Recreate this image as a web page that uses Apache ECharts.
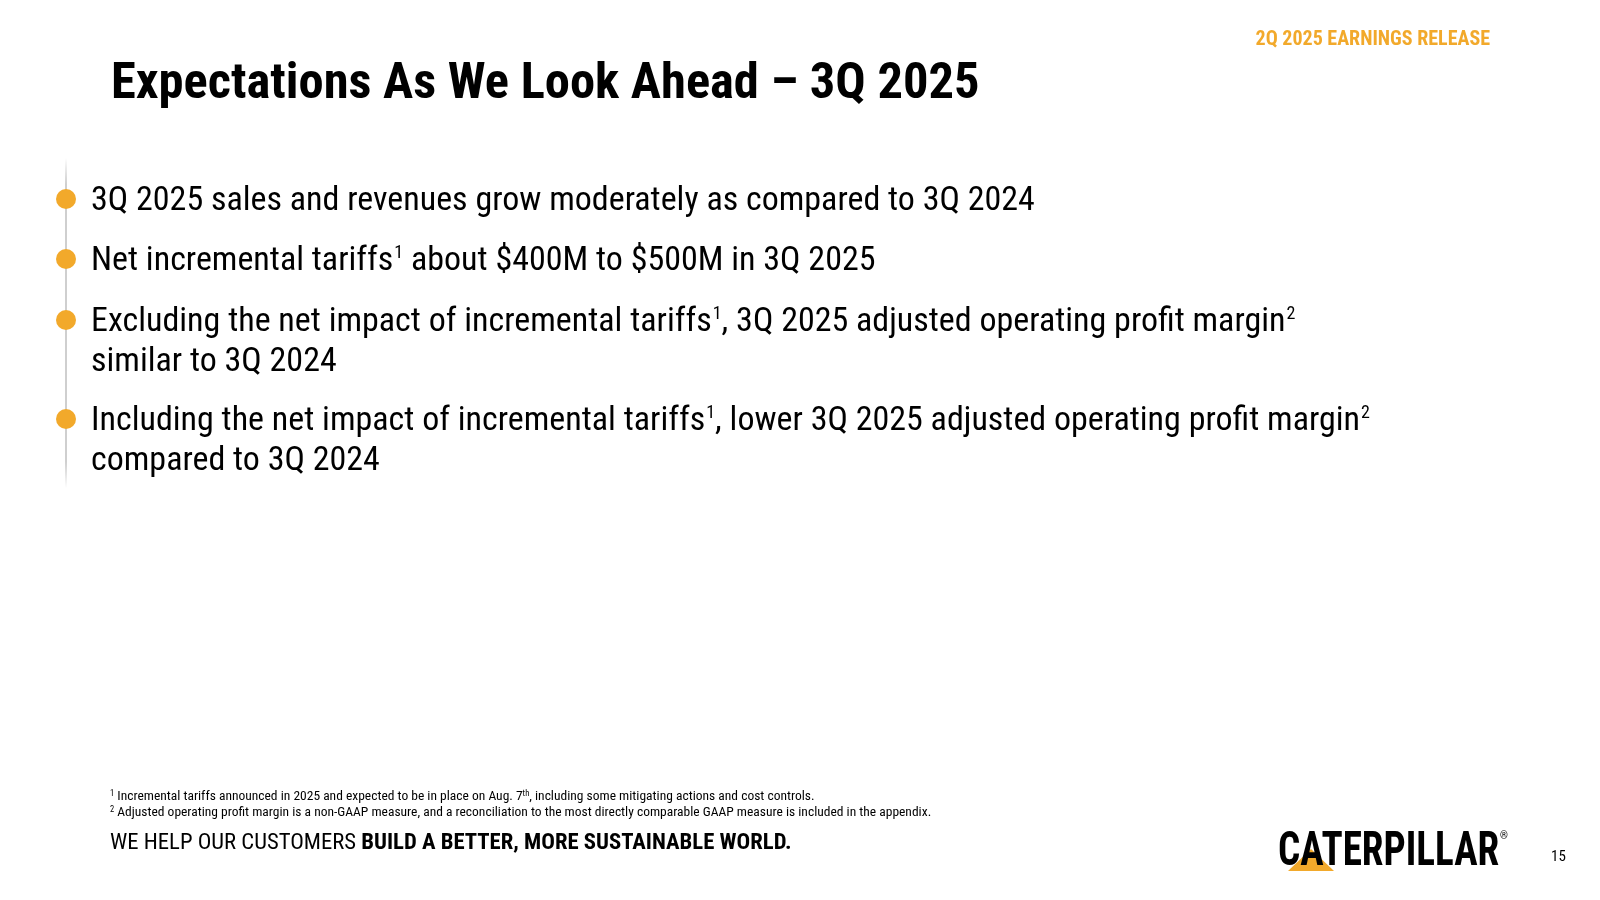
<!DOCTYPE html>
<html>
<head>
<meta charset="utf-8">
<script src="https://cdn.jsdelivr.net/npm/echarts@6/dist/echarts.min.js"></script>
<style>
html,body{margin:0;padding:0;background:#fff}
#slide{width:1600px;height:900px}
</style>
</head>
<body>
<div id="slide"></div>
<script>
// slide texts
var headerText = '2Q 2025 EARNINGS RELEASE';
var titleText = 'Expectations As We Look Ahead \u2013 3Q 2025';
// each bullet: list of lines, {sup|n} marks superscripts
var bullets = [
  ['3Q 2025 sales and revenues grow moderately as compared to 3Q 2024'],
  ['Net incremental tariffs{sup|1} about $400M to $500M in 3Q 2025'],
  ['Excluding the net impact of incremental tariffs{sup|1}, 3Q 2025 adjusted operating profit margin{sup|2}', 'similar to 3Q 2024'],
  ['Including the net impact of incremental tariffs{sup|1}, lower 3Q 2025 adjusted operating profit margin{sup|2}', 'compared to 3Q 2024']
];
var bulletY = [199, 259, 320, 419];
var footnotes = [
  '{sup|1} Incremental tariffs announced in 2025 and expected to be in place on Aug. 7{sup|th}, including some mitigating actions and cost controls.',
  '{sup|2} Adjusted operating profit margin is a non-GAAP measure, and a reconciliation to the most directly comparable GAAP measure is included in the appendix.'
];
var pageNum = '15';

var FONT = '"Liberation Sans Narrow", "Arial Narrow", "Roboto Condensed", "Liberation Sans", sans-serif';
var ORANGE = '#F2A92B';

var myChart = echarts.init(document.getElementById('slide'));
var els = [];

els.push({type:'text', right:110, top:30, style:{text:headerText, fill:ORANGE, font:'bold 20px ' + FONT}});
els.push({type:'text', left:111, top:60, style:{text:titleText, fill:'#000', font:'bold 50.5px ' + FONT}});

// vertical guide line
els.push({type:'rect', shape:{x:65, y:158, width:2, height:330},
  style:{fill:new echarts.graphic.LinearGradient(0,0,0,1,[
    {offset:0,color:'rgba(200,200,200,0)'},{offset:0.08,color:'#cfcfcf'},
    {offset:0.92,color:'#cfcfcf'},{offset:1,color:'rgba(200,200,200,0)'}])}});

bullets.forEach(function(lines, i){
  els.push({type:'circle', shape:{cx:66, cy:bulletY[i], r:10}, style:{fill:ORANGE}});
  lines.forEach(function(line, j){
    els.push({type:'text', left:91, top:bulletY[i] - 15 + j*40, style:{
      text:line, fill:'#000', font:'34px ' + FONT,
      rich:{sup:{fontSize:18, verticalAlign:'top', padding:[0,0,15,1], fill:'#000', fontFamily:FONT}}
    }});
  });
});

footnotes.forEach(function(t, i){
  els.push({type:'text', left:110, top:789 + i*16.5, style:{
    text:t, fill:'#000', font:'13.5px ' + FONT,
    rich:{sup:{fontSize:8.5, padding:[0,0,6,0], fill:'#000', fontFamily:FONT}}
  }});
});

els.push({type:'text', left:110, top:832, style:{
  text:'WE HELP OUR CUSTOMERS {b|BUILD A BETTER, MORE SUSTAINABLE WORLD.}',
  fill:'#000', font:'22.7px ' + FONT,
  rich:{b:{fontWeight:'bold', fontSize:22.7, fontFamily:FONT, fill:'#000'}}
}});

// logo
els.push({type:'polygon', shape:{points:[[1288,871],[1311,849],[1334,871]]}, style:{fill:ORANGE}, z:1});
els.push({type:'text', x:1278, y:829, scaleX:0.89, scaleY:1.1, z:2, style:{text:'CATERPILLAR', fill:'#000', font:'bold 44px ' + FONT}});
els.push({type:'text', left:1500, top:831, style:{text:'\u00ae', fill:'#000', font:'10px ' + FONT}});
els.push({type:'text', left:1551, top:850, style:{text:pageNum, fill:'#000', font:'15px ' + FONT}});

myChart.setOption({backgroundColor:'#fff', graphic:{elements:els}});
window.onresize = function(){ myChart.resize(); };
</script>
</body>
</html>
